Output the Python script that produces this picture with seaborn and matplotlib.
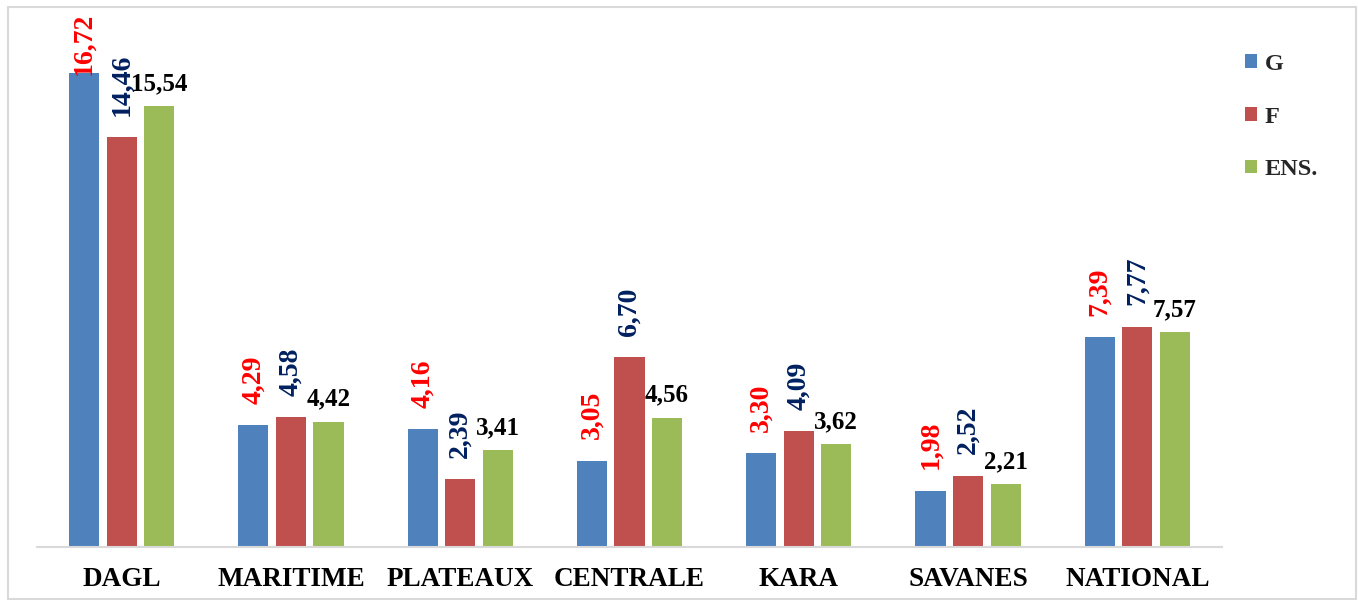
import matplotlib
matplotlib.use("Agg")
import matplotlib.pyplot as plt
from matplotlib.patches import Patch, Rectangle
import seaborn as sns
import pandas as pd

regions = ["DAGL", "MARITIME", "PLATEAUX", "CENTRALE", "KARA", "SAVANES", "NATIONAL"]
series = ["G", "F", "ENS."]
g_vals = [16.72, 4.29, 4.16, 3.05, 3.30, 1.98, 7.39]
f_vals = [14.46, 4.58, 2.39, 6.70, 4.09, 2.52, 7.77]
ens_vals = [15.54, 4.42, 3.41, 4.56, 3.62, 2.21, 7.57]

bar_colors = ["#4F81BD", "#C0504D", "#9BBB59"]
label_colors = ["#FF0000", "#002060", "#000000"]

sns.set_theme(style="white")
plt.rcParams["font.family"] = ["Liberation Serif", "DejaVu Serif"]
plt.rcParams["font.weight"] = "bold"

df = pd.DataFrame({
    "region": regions * 3,
    "serie": [s for s in series for _ in regions],
    "value": g_vals + f_vals + ens_vals,
})

W, H = 1358, 600
fig = plt.figure(figsize=(W / 100, H / 100), dpi=100)
ax = fig.add_axes([37 / W, 53 / H, (1222 - 37) / W, (547 - 15) / H])

sns.barplot(data=df, x="region", y="value", hue="serie", hue_order=series,
            palette=bar_colors, saturation=1, width=0.666, gap=0.2,
            legend=False, ax=ax, linewidth=0, errorbar=None)

ax.set_ylim(0, 532 / 28.35)
ax.set_xlim(-0.5, len(regions) - 0.5)
for side in ["left", "right", "top"]:
    ax.spines[side].set_visible(False)
ax.spines["bottom"].set_color("#D9D9D9")
ax.spines["bottom"].set_linewidth(1.5)
ax.set_yticks([])
ax.set_xlabel("")
ax.set_ylabel("")
ax.tick_params(axis="x", length=0, pad=14.5)
for t in ax.get_xticklabels():
    t.set_fontsize(19.5)
    t.set_fontweight("bold")
    t.set_color("black")

vals_all = [g_vals, f_vals, ens_vals]
texts = []
for i, cont in enumerate(ax.containers):
    for bar, v in zip(cont, vals_all[i]):
        x = bar.get_x() + bar.get_width() / 2
        y = bar.get_height()
        lab = f"{v:.2f}".replace(".", ",")
        if i < 2:
            t = ax.annotate(lab, (x, y), xytext=(0, 15.5), textcoords="offset points",
                            rotation=90, ha="center", va="bottom", fontsize=20,
                            fontweight="bold", color=label_colors[i],
                            annotation_clip=False)
        else:
            t = ax.annotate(lab, (x, y), xytext=(0, 8), textcoords="offset points",
                            ha="center", va="bottom", fontsize=18,
                            fontweight="bold", color=label_colors[i],
                            annotation_clip=False)
        texts.append(t)

# keep labels inside the chart area (shift down if they overflow the top)
fig.canvas.draw()
renderer = fig.canvas.get_renderer()
limit_top = H - 13
for t in texts:
    bb = t.get_window_extent(renderer)
    if bb.y1 > limit_top:
        dx, dy = t.xyann
        t.xyann = (dx, dy - (bb.y1 - limit_top) * 72 / 100)

handles = [Patch(facecolor=c, edgecolor="none", label=s) for c, s in zip(bar_colors, series)]
fig.legend(handles=handles, loc="upper left", bbox_to_anchor=(1245 / W, 1 - 54 / H),
           frameon=False, prop={"weight": "bold", "size": 17.5},
           handlelength=0.5, handleheight=0.5, handletextpad=0.3,
           labelspacing=1.3, borderpad=0, borderaxespad=0)

fig.patches.append(Rectangle((8 / W, 1 / H), (1356 - 8) / W, (593 - 1) / H,
                             transform=fig.transFigure, fill=False,
                             edgecolor="#D9D9D9", linewidth=1.5))

fig.savefig("out.png", dpi=100, facecolor="white")
